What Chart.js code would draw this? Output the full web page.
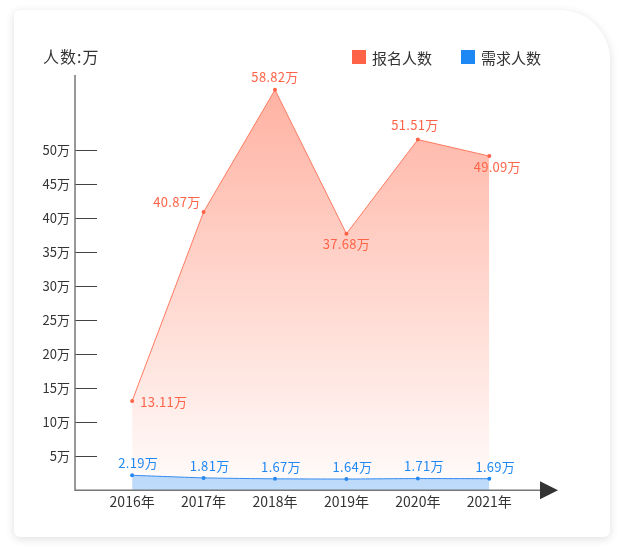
<!DOCTYPE html>
<html>
<head>
<meta charset="utf-8">
<script src="https://cdn.jsdelivr.net/npm/chart.js@4/dist/chart.umd.min.js"></script>
<style>
  html, body { margin: 0; padding: 0; background: #fff; }
  body { width: 623px; height: 557px; position: relative; overflow: hidden; }
  .card {
    position: absolute; left: 14px; top: 10px; width: 596px; height: 527px;
    background: #fff; border-radius: 6px 50px 6px 6px;
    box-shadow: 0 2px 10px rgba(0,0,0,0.13);
  }
  #wrap { position: absolute; left: 0; top: 0; width: 623px; height: 557px; }
</style>
</head>
<body>
<div class="card"></div>
<div id="wrap"><canvas id="myChart" width="623" height="557"></canvas></div>
<script>
let years = ['2016年', '2017年', '2018年', '2019年', '2020年', '2021年']
let signUp = [13.11, 40.87, 58.82, 37.68, 51.51, 49.09]
let demand = [2.19, 1.81, 1.67, 1.64, 1.71, 1.69]
let yTicks = [5, 10, 15, 20, 25, 30, 35, 40, 45, 50]
const FONT = '"Noto Sans CJK SC", "Noto Sans", sans-serif'

// label placement for each red point: [dx, dy, align]
let redPos = [[8, 1, 'left'], [-3, -10, 'right'], [0, -13, 'center'], [0, 10, 'center'], [-3, -15, 'center'], [8, 11, 'center']]

let ctx = document.getElementById('myChart').getContext('2d')

function vGrad(chart, top, bottom) {
  const area = chart.chartArea
  if (!area) return top
  const g = chart.ctx.createLinearGradient(0, area.top, 0, area.bottom)
  g.addColorStop(0, top)
  g.addColorStop(1, bottom)
  return g
}

const extras = {
  id: 'extras',
  afterDraw(chart) {
    const c = chart.ctx
    const x = chart.scales.x
    const y = chart.scales.y
    c.save()
    // y tick marks inside
    c.strokeStyle = '#444'
    c.lineWidth = 1
    yTicks.forEach(v => {
      const py = Math.round(y.getPixelForValue(v)) + 0.5
      c.beginPath()
      c.moveTo(x.left, py)
      c.lineTo(x.left + 22, py)
      c.stroke()
    })
    // axes
    c.strokeStyle = '#777'
    c.lineWidth = 1.5
    c.beginPath()
    c.moveTo(x.left, y.top)
    c.lineTo(x.left, y.bottom)
    c.lineTo(x.right, y.bottom)
    c.stroke()
    // arrow
    c.fillStyle = '#333'
    c.beginPath()
    c.moveTo(x.right, y.bottom - 9)
    c.lineTo(x.right + 18, y.bottom)
    c.lineTo(x.right, y.bottom + 9)
    c.closePath()
    c.fill()
    // axis title
    c.font = '16px ' + FONT
    c.fillStyle = '#333'
    c.textBaseline = 'middle'
    c.textAlign = 'left'
    c.letterSpacing = '1px'
    c.fillText('人数:万', 43, 57)
    // legend
    c.font = '15px ' + FONT
    c.letterSpacing = '0px'
    const cols = ['#ff6347', '#1e88f5']
    const lx = [352, 461]
    chart.data.datasets.forEach((ds, i) => {
      c.fillStyle = cols[i]
      c.fillRect(lx[i], 50, 14, 14)
      c.fillStyle = '#333'
      c.fillText(ds.label, lx[i] + 20, 58)
    })
    // value labels
    c.font = '13px ' + FONT
    c.letterSpacing = '0.3px'
    const m0 = chart.getDatasetMeta(0).data
    c.fillStyle = '#ff6347'
    m0.forEach((p, i) => {
      c.textAlign = redPos[i][2]
      c.fillText(signUp[i].toFixed(2) + '万', p.x + redPos[i][0], p.y + redPos[i][1])
    })
    const m1 = chart.getDatasetMeta(1).data
    c.fillStyle = '#1e88f5'
    c.textAlign = 'center'
    m1.forEach((p, i) => {
      c.fillText(demand[i].toFixed(2) + '万', p.x + 6, p.y - 12)
    })
    c.restore()
  }
}

const myChart = new Chart(ctx, {
  type: 'line',
  data: {
    datasets: [{
      label: '报名人数',
      data: signUp.map((v, i) => ({ x: i, y: v })),
      borderColor: '#ff7a60',
      borderWidth: 1,
      backgroundColor: c => vGrad(c.chart, 'rgba(255,110,80,0.55)', 'rgba(255,110,80,0.02)'),
      fill: 'origin',
      pointRadius: 2,
      pointBackgroundColor: '#ff6347',
      pointBorderWidth: 0,
      tension: 0
    }, {
      label: '需求人数',
      data: demand.map((v, i) => ({ x: i, y: v })),
      borderColor: '#2a8cf5',
      borderWidth: 1,
      backgroundColor: c => vGrad(c.chart, 'rgba(95,170,255,0.85)', 'rgba(185,220,255,0.95)'),
      fill: 'origin',
      pointRadius: 2,
      pointBackgroundColor: '#1e88f5',
      pointBorderWidth: 0,
      tension: 0.15
    }]
  },
  options: {
    responsive: false,
    animation: false,
    devicePixelRatio: 1,
    layout: { padding: { left: 0, top: 75, right: 83, bottom: 44 } },
    plugins: {
      legend: { display: false },
      tooltip: { enabled: false }
    },
    scales: {
      x: {
        type: 'linear',
        min: -0.8,
        max: 5.71,
        border: { display: false },
        grid: { display: false, drawTicks: false },
        afterBuildTicks: s => { s.ticks = years.map((t, i) => ({ value: i })) },
        ticks: {
          color: '#333',
          padding: 3,
          maxRotation: 0,
          autoSkip: false,
          font: { size: 14, family: FONT },
          callback: v => years[v]
        }
      },
      y: {
        min: 0,
        max: 61,
        border: { display: false },
        grid: { display: false, drawTicks: false },
        afterBuildTicks: s => { s.ticks = yTicks.map(v => ({ value: v })) },
        afterFit: s => { s.width = 75 },
        ticks: {
          color: '#333',
          padding: 5,
          autoSkip: false,
          font: { size: 13, family: FONT },
          callback: v => v + '万'
        }
      }
    }
  },
  plugins: [extras]
})
</script>
</body>
</html>
